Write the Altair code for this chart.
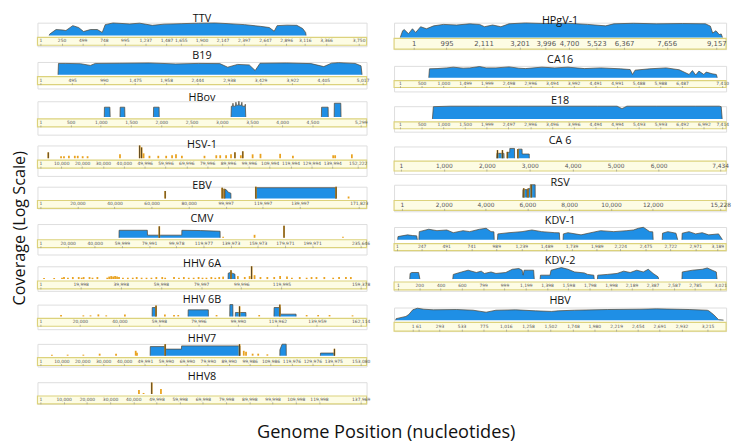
import altair as alt
import pandas as pd

# ---------------- data ----------------
# TTV
TTV_pos = [104, 110, 185, 266, 301, 382, 451, 509, 590, 671, 729, 764, 856, 1053, 1169, 1319, 1458, 1667, 1863, 2060, 2211, 2407, 2593, 2697, 2755, 2789, 2905, 3021, 3090, 3125, 3131]
TTV_cov = [1, 1.7, 10, 8.3, 6.8, 46, 22, 4.6, 10, 10, 3.2, 68, 131, 89, 121, 52, 83, 100, 121, 131, 100, 68, 35, 22, 5.2, 46, 56, 52, 15, 3.2, 1]
TTV_ticks = [1, 250, 499, 748, 995, 1237, 1487, 1655, 1900, 2147, 2397, 2647, 2896, 3116, 3366, 3750]

# B19
B19_pos = [275, 282, 397, 626, 779, 855, 1237, 1695, 2107, 2458, 2794, 2916, 3069, 3252, 3344, 3420, 3832, 4214, 4412, 4534, 4641, 4901, 4992, 5008]
B19_cov = [1, 83, 83, 74, 38, 83, 89, 100, 68, 83, 77, 19, 56, 46, 5.2, 89, 100, 77, 24, 93, 113, 83, 32, 1]
B19_ticks = [1, 495, 990, 1475, 1958, 2444, 2938, 3429, 3922, 4405, 5017]

# HBov
HBOV_segs_pos = [[1057, 1060, 1150, 1155], [1317, 1320, 1395, 1399], [1870, 1873, 1964, 1967],
                 [3154, 3159, 3180, 3186, 3192, 3228, 3235, 3242, 3278, 3284, 3290, 3326, 3333, 3340, 3385, 3390, 3398],
                 [4649, 4652, 4760, 4763], [4860, 4863, 4970, 4974]]
HBOV_segs_cov = [[1, 46, 46, 1], [1, 46, 46, 1], [1, 46, 46, 1],
                 [1, 68, 68, 215, 68, 68, 316, 100, 100, 464, 100, 100, 316, 68, 68, 147, 1],
                 [1, 46, 46, 1], [1, 215, 215, 1]]
HBOV_ticks = [1, 500, 1000, 1500, 2000, 2500, 3000, 3500, 4000, 4500, 5299]

# HSV-1
HSV1_spike_pos = [3770, 9897, 11311, 13668, 16495, 17909, 20266, 22622, 38175, 47601, 48544, 49487, 52314, 56556, 60326, 63154, 65039, 67867, 78707, 84362, 86248, 89076, 91432, 93318, 96145, 97088, 101801, 105572, 114998, 121125, 140449, 141392, 149404]
HSV1_spike_cov = [10, 2.2, 2.2, 2.6, 2.6, 2.6, 2.2, 2.2, 4.6, 147, 68, 6.8, 2.6, 2.6, 2.6, 3.2, 4.6, 2.6, 2.6, 3.2, 3.2, 3.2, 4.6, 10, 3.2, 15, 4.6, 5.6, 5.6, 2.6, 3.2, 3.2, 4.6]
HSV1_ticks = [1, 10000, 20000, 30000, 40000, 49996, 59996, 69996, 79996, 89996, 99996, 109994, 119994, 129994, 139994, 152222]

# EBV
EBV_segs_pos = [[99600, 99650, 100600, 101300, 102800, 102860], [116273, 116300, 159560, 159590]]
EBV_segs_cov = [[1, 40, 25, 12, 8, 1], [1, 68, 68, 1]]
EBV_spike_pos = [67335, 98087, 99147, 116273, 159590, 166327]
EBV_spike_cov = [19, 68, 46, 100, 100, 2.2]
EBV_ticks = [1, 20000, 40000, 60000, 80000, 99997, 119997, 139997, 171823]

# CMV
CMV_segs_pos = [[57840, 57900, 78700, 78807, 104050, 104112, 118000, 132250, 132309]]
CMV_segs_cov = [[1, 19, 19, 2.8, 2.8, 19, 17, 13, 1]]
CMV_spike_pos = [87483, 134478, 157614, 179304, 222684]
CMV_spike_cov = [89, 1.5, 3.2, 113, 1.5]
CMV_ticks = [1, 20000, 40000, 59999, 79991, 99978, 119977, 139973, 159973, 179971, 199971, 235646]

# HHV 6A
HHV6A_segs_pos = [[93399, 93500, 94500, 95500, 96822, 96900]]
HHV6A_segs_cov = [[1, 10, 13, 10, 6.8, 1]]
HHV6A_spike_pos = [1809, 6846, 10758, 11736, 13692, 16137, 19071, 20538, 21516, 24450, 25917, 28362, 33252, 34230, 35208, 36186, 37164, 38142, 39120, 41076, 43521, 45966, 47922, 50367, 52812, 55257, 57702, 60636, 62103, 66504, 68949, 71394, 73839, 76284, 78729, 80685, 82641, 85086, 87042, 88998, 90954, 94866, 98289, 101712, 104157, 105135, 106602, 109536, 112959, 116382, 119316, 122739, 125184, 129096, 132519, 134964, 137409, 141321, 145722, 148656, 152079, 154524]
HHV6A_spike_cov = [1.5, 1.5, 1.7, 2.2, 1.7, 2.2, 2.2, 1.7, 2.2, 2.2, 1.7, 2.2, 1.7, 2.6, 3.2, 2.6, 3.2, 2.6, 2.2, 1.7, 1.7, 1.7, 2.2, 1.7, 1.7, 1.7, 2.2, 2.2, 1.7, 2.2, 1.7, 2.2, 1.7, 1.7, 2.2, 1.7, 1.7, 2.2, 1.7, 2.2, 2.6, 32, 3.2, 2.2, 3.2, 165, 4.6, 2.2, 2.2, 2.2, 3.2, 2.6, 1.7, 2.2, 1.7, 2.2, 2.2, 2.2, 1.7, 2.2, 2.2, 2.2]
HHV6A_ticks = [1, 19998, 39998, 59998, 79997, 99996, 119995, 159378]

# HHV 6B
HHV6B_segs_pos = [[56542, 56600, 58480, 58531], [74743, 74800, 85000, 85038], [95830, 95900, 97400, 97471],
                  [98615, 98700, 104000, 104085], [118208, 118300, 121400, 121490, 129400, 129447]]
HHV6B_segs_cov = [[1, 32, 32, 1], [1, 13, 13, 1], [1, 113, 113, 1], [1, 4.6, 4.6, 1], [1, 32, 32, 2.4, 2.4, 1]]
HHV6B_spike_pos = [10443, 21732, 25362, 29341, 33319, 42766, 58531, 63007, 67631, 69770, 89166, 100803, 110748, 121192, 134769, 140587, 146356, 157993]
HHV6B_spike_cov = [1.7, 1.5, 1.5, 2.2, 1.5, 2.2, 68, 2.2, 1.7, 1.7, 1.7, 52, 1.7, 113, 1.7, 1.7, 1.7, 1.5]
HHV6B_ticks = [1, 20000, 40000, 59998, 79996, 99990, 119962, 139959, 162114]

# HHV7
HHV7_segs_pos = [[52443, 52500, 59600, 59627, 67400, 67467, 95400, 95449], [114417, 114450, 115497, 117450, 117516], [133808, 133850, 140480, 140522]]
HHV7_segs_cov = [[1, 35, 35, 13, 13, 46, 46, 1], [1, 10, 89, 89, 1], [1, 2.8, 2.8, 1]]
HHV7_spike_pos = [5493, 13005, 20517, 28311, 36152, 45542, 46152, 59627, 95167, 97187, 98267, 101412, 104088, 108455, 140522]
HHV7_spike_cov = [1.5, 1.5, 1.5, 2.2, 2.2, 6.8, 3.2, 89, 89, 6.8, 4.6, 2.2, 2.2, 1.7, 15]
HHV7_ticks = [1, 10000, 20000, 30000, 40000, 49991, 59990, 69990, 79990, 89990, 99986, 109986, 119976, 129976, 139975, 153080]

# HHV8
HHV8_spike_pos = [42446, 44436, 47948, 51926]
HHV8_spike_cov = [4.6, 1.5, 89, 6.8]
HHV8_ticks = [1, 10000, 20000, 30000, 40000, 49998, 59998, 69998, 79998, 89998, 99998, 109998, 119998, 137969]

# HPgV-1
HPGV_pos = [-406, -335, -287, -157, -38, 60, 209, 387, 604, 902, 1300, 1695, 1993, 2141, 2388, 2638, 2884, 3381, 3975, 4668, 5262, 5807, 6056, 6651, 7343, 8137, 8829, 8978, 9047, 9148, 9246, 9306, 9344]
HPGV_cov = [1, 19, 32, 5.2, 46, 8.9, 113, 46, 165, 316, 242, 412, 316, 113, 242, 113, 412, 605, 464, 522, 316, 165, 412, 522, 412, 464, 412, 147, 6.8, 19, 3.5, 4.6, 1]
HPGV_ticks = [1, 995, 2111, 3201, 3996, 4700, 5523, 6367, 7656, 9157]

# CA16
CA16_pos = [663, 679, 853, 1078, 1228, 1453, 1605, 1831, 1982, 2208, 2508, 2734, 2886, 3261, 3563, 3864, 4241, 4616, 5068, 5294, 5348, 5407, 5746, 6122, 6423, 6649, 6726, 6801, 6875, 6988, 7042, 7178, 7275, 7297]
CA16_cov = [1, 32, 35, 46, 61, 41, 46, 77, 46, 46, 68, 41, 35, 61, 46, 61, 35, 46, 32, 24, 3.5, 19, 32, 46, 22, 3.5, 16, 2.8, 13, 3.5, 9, 4.6, 3.5, 1]
CA16_ticks = [1, 500, 1000, 1499, 1999, 2498, 2996, 3494, 3992, 4491, 4991, 5488, 5988, 6487, 7410]

# E18
E18_pos = [747, 769, 1154, 1831, 2735, 3639, 4543, 4995, 5108, 5221, 5899, 6803, 7345, 7390, 7413]
E18_cov = [1, 121, 147, 160, 165, 160, 165, 147, 56, 147, 160, 165, 160, 121, 1]
E18_ticks = [1, 500, 1000, 1500, 1999, 2497, 2996, 3496, 3996, 4494, 4994, 5493, 5993, 6492, 6992, 7414]

# CA 6
CA6_segs_pos = [[2227, 2235, 2400, 2403], [2478, 2482, 2533, 2536, 2645, 2647], [2723, 2727, 2821, 2824, 2988, 2991]]
CA6_segs_cov = [[1, 6.8, 6.8, 1], [1, 10, 10, 46, 46, 1], [1, 35, 35, 5.2, 5.2, 1]]
CA6_spike_pos = [2249, 2364, 2478, 2723]
CA6_spike_cov = [24, 24, 12, 35]
CA6_ticks = [1, 1000, 2000, 3000, 4000, 5000, 6000, 7434]

# RSV
RSV_segs_pos = [[5781, 5790, 5980, 5983], [6030, 6035, 6140, 6143, 6375, 6378]]
RSV_segs_cov = [[1, 22, 22, 1], [1, 32, 32, 165, 165, 1]]
RSV_spike_pos = [5828, 6030, 6190]
RSV_spike_cov = [38, 32, 165]
RSV_ticks = [1, 2000, 4000, 6000, 8000, 10000, 12000, 15228]

# KDV-1
KDV1_segs_pos = [[8, 11, 106, 157, 197, 204],
                 [219, 223, 317, 399, 497, 561, 659, 725, 822, 888, 937, 966, 969],
                 [1001, 1005, 1116, 1246, 1344, 1441, 1572, 1617, 1621],
                 [1654, 1657, 1703, 1833, 1931, 2028, 2159, 2289, 2355, 2404, 2453, 2517, 2547, 2551],
                 [2641, 2644, 2697, 2778, 2795],
                 [2837, 2840, 2908, 2974, 3039, 3104, 3202, 3241]]
KDV1_segs_cov = [[1, 3.5, 6.8, 5.2, 4.6, 1],
                 [1, 24, 61, 35, 46, 16, 35, 24, 61, 89, 24, 22, 1],
                 [1, 10, 16, 24, 46, 24, 16, 15, 1],
                 [1, 10, 16, 6.8, 16, 35, 24, 35, 46, 89, 131, 24, 22, 1],
                 [1, 13, 24, 13, 1],
                 [1, 13, 24, 10, 16, 6.8, 10, 1]]
KDV1_ticks = [1, 247, 491, 741, 989, 1239, 1489, 1739, 1989, 2224, 2475, 2722, 2971, 3189]

# KDV-2
KDV2_segs_pos = [[111, 114, 130, 194, 206],
                 [514, 519, 597, 658, 735, 781, 811, 873, 919, 1011, 1072, 1134, 1164, 1174, 1183, 1226, 1272, 1278],
                 [1333, 1336, 1426, 1435, 1532, 1594, 1656, 1748, 1778, 1836, 1840],
                 [1870, 1873, 1962, 2054, 2116, 2177, 2239, 2300, 2346, 2392, 2438, 2444],
                 [2662, 2665, 2761, 2853, 2899, 2945, 2984, 2991]]
KDV2_segs_cov = [[1, 9, 13, 13, 1],
                 [1, 6.1, 16, 32, 13, 22, 9, 16, 9, 13, 46, 61, 32, 4.6, 32, 32, 32, 1],
                 [1, 4.6, 4.6, 32, 89, 46, 16, 11, 6.1, 4.6, 1],
                 [1, 4.6, 6.1, 9, 22, 13, 32, 16, 46, 9, 2.4, 1],
                 [1, 16, 32, 46, 77, 32, 16, 1]]
KDV2_ticks = [1, 200, 400, 600, 799, 999, 1199, 1398, 1598, 1798, 1998, 2189, 2387, 2587, 2785, 3021]

# HBV
HBV_pos = [-186, -181, -74, -42, 1, 51, 122, 226, 480, 658, 801, 908, 1123, 1337, 1515, 1587, 1766, 2122, 2479, 2658, 3015, 3212, 3229, 3283, 3336, 3390]
HBV_cov = [1, 1.9, 4.6, 10, 61, 113, 77, 61, 68, 52, 24, 52, 61, 41, 32, 41, 52, 68, 77, 89, 68, 52, 41, 9, 1.3, 1.1]
HBV_ticks = [1, 61, 293, 533, 775, 1016, 1258, 1502, 1748, 1980, 2219, 2454, 2691, 2932, 3215]

# ---------------- styling ----------------
BLUE = "#1f8fe5"
EDGE = "#4f4330"
ORANGE = "#e9a21f"
DARK = "#262626"
BAR_FILL = "#fdfce4"
BAR_STROKE = "#dcd27c"
FONT = "Open Sans"

LEFT_W = 335
RIGHT_W = 338


def segs_df(pos_lists, cov_lists):
    rows = []
    for i, (pl, cl) in enumerate(zip(pos_lists, cov_lists)):
        for p, c in zip(pl, cl):
            rows.append({"pos": p, "cov": c, "seg": i})
    return pd.DataFrame(rows)


def panel(name, width, dom, ticks, lay, segs=None, spikes=None, label_size=4.5, ytop=None):
    A, G, B, E, off = lay
    top = A if ytop is None else ytop
    xs = alt.Scale(domain=dom, nice=False, zero=False)
    ys = alt.Scale(type="log", domain=[1, 10 ** (top / 6.0)], range=[A, 0], clamp=True, nice=False)
    axis = alt.Axis(orient="top", offset=-(A + G + B), values=ticks, format=",d",
                    labelFontSize=label_size, labelColor="#555", labelFont="DejaVu Sans",
                    tickSize=2, tickColor="#888", tickWidth=0.6, domain=False, grid=False,
                    title=None, labelPadding=0.5, labelOverlap=False, zindex=2)
    bar = alt.Chart(pd.DataFrame({"k": [0]})).mark_rect(
        fill=BAR_FILL, stroke=BAR_STROKE, strokeWidth=1.2
    ).encode(x=alt.value(0), x2=alt.value(width), y=alt.value(A + G), y2=alt.value(A + G + B))
    layers = [bar]
    if segs is not None:
        df = segs_df(*segs)
        base = alt.Chart(df).encode(
            x=alt.X("pos:Q", scale=xs, axis=axis),
            y=alt.Y("cov:Q", scale=ys, axis=None),
            detail="seg:N",
        )
        layers.append(base.mark_area(color=BLUE, opacity=1).encode(y2=alt.datum(1)))
        layers.append(base.mark_line(color=EDGE, strokeWidth=0.7))
    if spikes is not None:
        sdf = pd.DataFrame({"pos": spikes[0], "cov": spikes[1]})
        sb = alt.Chart(sdf).encode(
            x=alt.X("pos:Q", scale=xs, axis=axis),
            y=alt.Y("cov:Q", scale=ys, axis=None),
            y2=alt.datum(1),
        )
        layers.append(sb.mark_rule(color=ORANGE, strokeWidth=1.8))
        layers.append(sb.mark_rule(color=DARK, strokeWidth=0.8).transform_filter("datum.cov >= 8"))
    return alt.layer(*layers).properties(
        width=width, height=A + G + B + E,
        title=alt.TitleParams(name, fontSize=11, font=FONT, fontWeight="normal", color="#111",
                              anchor="middle", offset=off),
    )


left_panels = [
    panel("TTV", LEFT_W, [-34, 3843], TTV_ticks, (13, 2, 8, 1, -2), segs=([TTV_pos], [TTV_cov])),
    panel("B19", LEFT_W, [-45, 5078], B19_ticks, (13, 2, 8, 4, 0), segs=([B19_pos], [B19_cov])),
    panel("HBov", LEFT_W, [-48, 5396], HBOV_ticks, (16, 2, 8, 8, -3), segs=(HBOV_segs_pos, HBOV_segs_cov)),
    panel("HSV-1", LEFT_W, [-1413, 156457], HSV1_ticks, (13, 2, 8, 8, -5), spikes=(HSV1_spike_pos, HSV1_spike_cov)),
    panel("EBV", LEFT_W, [-1590, 176034], EBV_ticks, (12, 2, 8, 0, -5), segs=(EBV_segs_pos, EBV_segs_cov), spikes=(EBV_spike_pos, EBV_spike_cov)),
    panel("CMV", LEFT_W, [-2168, 240059], CMV_ticks, (14, 2, 8, 7, 0), segs=(CMV_segs_pos, CMV_segs_cov), spikes=(CMV_spike_pos, CMV_spike_cov)),
    panel("HHV 6A", LEFT_W, [-1466, 162348], HHV6A_ticks, (13, 2, 8, 2, -4), segs=(HHV6A_segs_pos, HHV6A_segs_cov), spikes=(HHV6A_spike_pos, HHV6A_spike_cov)),
    panel("HHV 6B", LEFT_W, [-1491, 165093], HHV6B_ticks, (12, 2, 8, 3, -2), segs=(HHV6B_segs_pos, HHV6B_segs_cov), spikes=(HHV6B_spike_pos, HHV6B_spike_cov)),
    panel("HHV7", LEFT_W, [-1408, 155869], HHV7_ticks, (12, 2, 8, 1, -1), segs=(HHV7_segs_pos, HHV7_segs_cov), spikes=(HHV7_spike_pos, HHV7_spike_cov)),
    panel("HHV8", LEFT_W, [-1269, 140500], HHV8_ticks, (12, 2, 8, 0, 0), spikes=(HHV8_spike_pos, HHV8_spike_cov)),
]

right_panels = [
    panel("HPgV-1", RIGHT_W, [-594, 9454], HPGV_ticks, (15, 1, 11, 0, -4), segs=([HPGV_pos], [HPGV_cov]), label_size=7, ytop=17),
    panel("CA16", RIGHT_W, [-135, 7500], CA16_ticks, (12, 3, 7, 4, 0), segs=([CA16_pos], [CA16_cov])),
    panel("E18", RIGHT_W, [-135, 7503], E18_ticks, (13, 3, 7, 3, -1), segs=([E18_pos], [E18_cov])),
    panel("CA 6", RIGHT_W, [-159, 7572], CA6_ticks, (12, 3, 10, 3, 0), segs=(CA6_segs_pos, CA6_segs_cov), spikes=(CA6_spike_pos, CA6_spike_cov), label_size=6),
    panel("RSV", RIGHT_W, [-375, 15509], RSV_ticks, (13, 3, 10, 1, -5), segs=(RSV_segs_pos, RSV_segs_cov), spikes=(RSV_spike_pos, RSV_spike_cov), label_size=6),
    panel("KDV-1", RIGHT_W, [-28, 3277], KDV1_ticks, (13, 4, 7, 0, 0), segs=(KDV1_segs_pos, KDV1_segs_cov)),
    panel("KDV-2", RIGHT_W, [-36, 3076], KDV2_ticks, (13, 3, 8, 1, 0), segs=(KDV2_segs_pos, KDV2_segs_cov)),
    panel("HBV", RIGHT_W, [-203, 3418], HBV_ticks, (13, 2, 9, 0, 1), segs=([HBV_pos], [HBV_cov])),
]

left_col = alt.vconcat(*left_panels, spacing=2).properties(
    title=alt.TitleParams("Coverage (Log Scale)", orient="left", fontSize=16.5, font=FONT,
                          fontWeight="normal", color="#111", anchor="middle", offset=8.5, dx=-20)
)
right_col = alt.vconcat(*right_panels, spacing=2)

chart = alt.hconcat(left_col, right_col, spacing=22).properties(
    title=alt.TitleParams("Genome Position (nucleotides)", orient="bottom", fontSize=18.5, font=FONT,
                          fontWeight="normal", color="#111", anchor="middle", offset=19, dx=15),
    padding={"left": 3, "top": 0, "right": 0, "bottom": 0},
).configure_view(stroke=None).configure(background="white")

chart.save("out.html", embed_options={"renderer": "svg", "actions": False})
